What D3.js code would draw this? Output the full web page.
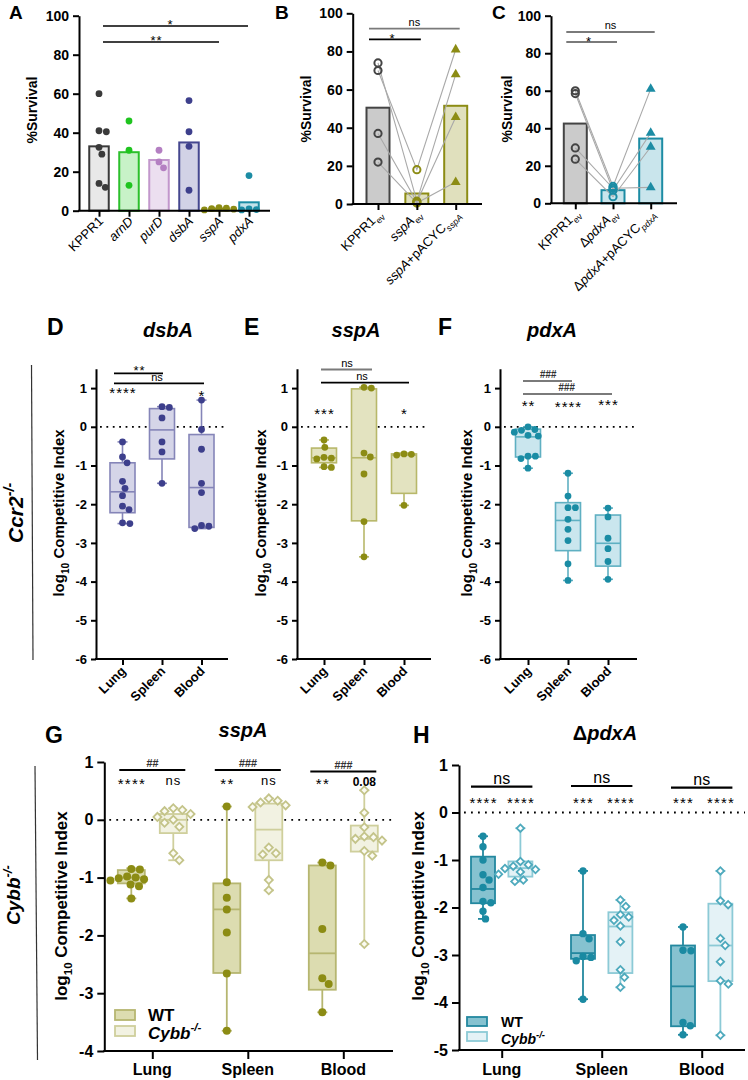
<!DOCTYPE html>
<html><head><meta charset="utf-8">
<script src="https://cdn.jsdelivr.net/npm/d3@7/dist/d3.min.js"></script>
<style>html,body{margin:0;padding:0;background:#fff}</style>
</head><body>
<script>
// ================= DATA =================
// Panel A
const aCats = ["KPPR1","arnD","purD","dsbA","sspA","pdxA"];
const aLabels = [[["KPPR1",""]],[["arnD","i"]],[["purD","i"]],[["dsbA","i"]],[["sspA","i"]],[["pdxA","i"]]];
const aMeans = [33, 30, 26, 35, 1.1, 4.3];
const aPts = [[60,40.5,41,32.5,29,14,12],[46,31,13],[31,25,22],[56.5,40.5,33,10.5],[1.6,1.3,1.1,0.8,0.4],[18,0.9,0.6,0.4]];
const aTicks = [0,20,40,60,80,100];
const aSig = [["KPPR1","pdxA","*"],["KPPR1","sspA","**"]];

// Panel B
const bCats = ["KPPR1ev","sspAev","sspAcomp"];
const bLabels = [[["KPPR1",""],["ev","sub"]],[["sspA","i"],["ev","sub"]],[["sspA","i"],["+pACYC",""],["sspA","subi"]]];
const bMeans = [50.5, 5.5, 51.5];
const bWT = [74, 70, 37, 22];
const bMut = [1.5, 18, 1, 0.5];
const bComp = [68, 81, 45.5, 11.5];
const bSig = [["KPPR1ev","sspAcomp","ns"],["KPPR1ev","sspAev","*"]];

// Panel C
const cCats = ["KPPR1ev","pdxAev","pdxAcomp"];
const cLabels = [[["KPPR1",""],["ev","sub"]],[["Δ",""],["pdxA","i"],["ev","sub"]],[["Δ",""],["pdxA","i"],["+pACYC",""],["pdxA","subi"]]];
const cMeans = [42.5, 7, 34.5];
const cWT = [60, 58.5, 29.5, 23.5];
const cMut = [9, 7, 8, 3.5];
const cComp = [61, 37.5, 8.5, 30];
const cSig = [["KPPR1ev","pdxAcomp","ns"],["KPPR1ev","pdxAev","*"]];

// Panels D-F (Ccr2-/-), box stats = [min, q1, median, q3, max]
const organs = ["Lung","Spleen","Blood"];
const ccrTicks = [1,0,-1,-2,-3,-4,-5,-6];
const dPts = [[-0.39,-0.78,-0.93,-1.41,-1.59,-1.78,-2.05,-2.14,-2.48,-2.5],[0.52,0.5,0.23,-0.39,-0.65,-1.46],[0.69,-0.07,-0.58,-1.46,-1.7,-2.55,-2.57,-2.63]];
const dBox = [[-2.5,-2.22,-1.68,-0.93,-0.39],[-1.46,-0.83,-0.08,0.47,0.52],[-2.63,-2.6,-1.57,-0.2,0.69]];
const dStars = ["****","","*"];
const ePts = [[-0.34,-0.53,-0.79,-0.83,-0.81,-1.03,-1.05],[1.02,1.0,-0.68,-0.78,-1.22,-2.45,-3.36],[-0.7,-0.73,-0.71,-2.03]];
const eBox = [[-1.05,-0.93,-0.8,-0.55,-0.34],[-3.36,-2.43,-0.8,0.98,1.02],[-2.03,-1.72,-0.73,-0.7,-0.68]];
const eStars = ["***","","*"];
const fPts = [[0,-0.07,-0.09,-0.14,-0.22,-0.24,-0.76,-0.82,-0.76,-1.07],[-1.2,-1.79,-2.09,-2.09,-2.39,-2.65,-2.94,-3.54,-3.97],[-2.1,-2.33,-2.88,-3.15,-3.48,-3.94]];
const fBox = [[-1.07,-0.78,-0.26,-0.06,0],[-3.97,-3.2,-2.42,-1.96,-1.2],[-3.94,-3.6,-3.01,-2.28,-2.1]];
const fStars = ["**","****","***"];

// Panel G (sspA, WT vs Cybb-/-)
const gTicks = [1,0,-1,-2,-3,-4];
const gWT = [[-0.85,-0.86,-0.98,-1.0,-1.01,-1.03,-1.05,-1.12,-1.15,-1.36],[0.23,-1.08,-1.35,-1.55,-1.95,-2.66,-3.65],[-0.74,-0.79,-1.89,-2.74,-2.84,-3.33]];
const gWTBox = [[-1.36,-1.1,-1.0,-0.87,-0.84],[-3.65,-2.65,-1.55,-1.1,0.23],[-3.33,-2.94,-2.31,-0.79,-0.74]];
const gKO = [[0.2,0.17,0.15,0.1,0.05,0.0,-0.05,-0.12,-0.58,-0.7],[0.37,0.33,0.3,0.25,0.22,-0.48,-0.58,-0.6,-1.04,-1.22],[0.51,0.12,-0.13,-0.29,-0.3,-0.33,-0.36,-0.54,-0.62,-2.15]];
const gKOBox = [[-0.7,-0.23,0.0,0.1,0.2],[-1.22,-0.7,-0.17,0.28,0.37],[-2.15,-0.55,-0.33,-0.1,0.51]];
const gHash = ["##","###","###"];
const gStarsWT = ["****","**","**"];
const gStarsKO = ["ns","ns","0.08"];

// Panel H (ΔpdxA, WT vs Cybb-/-)
const hTicks = [1,0,-1,-2,-3,-4,-5];
const hWT = [[-0.5,-0.72,-1.0,-1.31,-1.42,-1.58,-1.87,-1.9,-2.08,-2.24],[-1.23,-2.55,-2.66,-3.03,-3.05,-3.12,-3.93],[-2.41,-2.9,-2.91,-4.42,-4.49,-4.68]];
const hWTBox = [[-2.24,-1.91,-1.61,-0.93,-0.5],[-3.93,-3.08,-2.96,-2.58,-1.23],[-4.68,-4.5,-3.66,-2.8,-2.41]];
const hKO = [[-0.33,-1.03,-1.1,-1.13,-1.18,-1.2,-1.25,-1.3,-1.42,-1.45],[-1.84,-1.98,-2.15,-2.2,-2.27,-2.39,-2.72,-3.31,-3.47,-3.68],[-1.23,-1.86,-1.94,-2.65,-2.8,-3.14,-3.54,-3.61,-4.69]];
const hKOBox = [[-1.45,-1.35,-1.17,-1.03,-0.33],[-3.68,-3.38,-2.4,-2.1,-1.84],[-4.69,-3.55,-2.8,-1.92,-1.23]];
const hTop = ["ns","ns","ns"];
const hStarsWT = ["****","***","***"];
const hStarsKO = ["****","****","****"];

// ================= STYLE =================
const FONT = "'Liberation Sans', Arial, Helvetica, sans-serif";
const aFill = ["#e8e8e8","#c8f2c8","#ecdff0","#d2d2e6","#e0e0b0","#c4e2ea"];
const aStroke = ["#3a3a3a","#2cc02c","#c297cc","#45478f","#8c8c14","#1c8ca4"];
const aPtCol = ["#3a3a3a","#1fc41f","#b47fc2","#3d3f8c","#8c8c14","#1c8ca4"];
const GREY = "#7a7a7a";

const svg = d3.select("body").append("svg").attr("width",748).attr("height",1080)
  .attr("font-family", FONT);

// ================= HELPERS =================
function rich(t, segs, fs) {
  let shift = 0;
  segs.forEach(([s, st]) => {
    const sp = t.append("tspan").text(s);
    if (st.includes("i")) sp.attr("font-style","italic");
    let target = 0;
    if (st.startsWith("sub")) target = fs*0.3;
    if (st.startsWith("sup")) target = -fs*0.42;
    if (target !== shift) { sp.attr("dy", target - shift); shift = target; }
    if (target !== 0) sp.attr("font-size", fs*0.68);
  });
}
function txt(x, y, s, o={}) {
  const fs = o.fs || 13;
  const g = svg.append("g").attr("transform", `translate(${x},${y})` + (o.rot ? ` rotate(${o.rot})` : ""));
  const t = g.append("text").attr("x",0).attr("y",0).attr("font-size",fs)
    .attr("text-anchor",o.anchor||"middle").attr("fill",o.fill||"#000");
  if (o.bold) t.attr("font-weight","bold");
  if (o.italic) t.attr("font-style","italic");
  if (o.ls) t.attr("letter-spacing",o.ls);
  if (Array.isArray(s)) rich(t, s, fs); else t.text(s);
  return t;
}
function stars(cx, cy, s, fs, ls) {
  return txt(cx + (ls||0)/2, cy + fs*0.58, s, {fs, ls});
}
function hline(x1, x2, y, color, w) {
  svg.append("line").attr("x1",x1).attr("x2",x2).attr("y1",y).attr("y2",y)
    .attr("stroke",color).attr("stroke-width",w||1.5);
}
function yAxis(x, y, ticks, fs, tl) {
  const g = svg.append("g").attr("transform",`translate(${x},0)`)
    .call(d3.axisLeft(y).tickValues(ticks).tickSize(tl||6).tickSizeOuter(0).tickPadding(4).tickFormat(d=>String(d)));
  g.select(".domain").attr("stroke-width",2);
  g.selectAll(".tick line").attr("stroke-width",2);
  g.selectAll(".tick text").attr("font-size",fs).attr("font-weight","bold").attr("font-family",FONT).attr("fill","#000");
  return g;
}
function xAxis(x0, x1, yPix, xs, tl) {
  hline(x0-1, x1, yPix, "#000", 2);
  const g = svg.append("g").attr("transform",`translate(0,${yPix})`)
    .call(d3.axisBottom(xs).tickSize(tl||6).tickFormat(""));
  g.select(".domain").remove();
  g.selectAll(".tick line").attr("stroke-width",2);
}
function zeroLine(x0, x1, y, gap) {
  svg.append("line").attr("x1",x0).attr("x2",x1).attr("y1",y(0)).attr("y2",y(0))
    .attr("stroke","#000").attr("stroke-width",1.8).attr("stroke-dasharray",`1.8,${gap||4.8}`);
}
function swarm(vals, y, r) {
  const items = vals.map((v,i)=>({i, py:y(v)})).sort((a,b)=>a.py-b.py);
  const placed = [], out = new Array(vals.length);
  for (const p of items) {
    const cands = [0];
    for (const q of placed) {
      const dy = Math.abs(q.py - p.py);
      if (dy < 2*r) { const dx = Math.sqrt(4*r*r - dy*dy); cands.push(q.dx+dx, q.dx-dx); }
    }
    cands.sort((a,b)=>Math.abs(a)-Math.abs(b));
    let best = 0;
    for (const c of cands) {
      if (placed.every(q => (q.dx-c)**2 + (q.py-p.py)**2 >= 4*r*r - 0.05)) { best = c; break; }
    }
    p.dx = best; placed.push(p); out[p.i] = best;
  }
  return out;
}
function drawBox(cx, w, st, y, fill, stroke, sw) {
  const [mn,q1,md,q3,mx] = st;
  const g = svg.append("g").attr("stroke",stroke).attr("stroke-width",sw||1.6);
  g.append("line").attr("x1",cx).attr("x2",cx).attr("y1",y(mx)).attr("y2",y(q3));
  g.append("line").attr("x1",cx).attr("x2",cx).attr("y1",y(q1)).attr("y2",y(mn));
  [mn,mx].forEach(v => g.append("line").attr("x1",cx-5).attr("x2",cx+5).attr("y1",y(v)).attr("y2",y(v)));
  g.append("rect").attr("x",cx-w/2).attr("y",y(q3)).attr("width",w).attr("height",Math.max(0.5,y(q1)-y(q3))).attr("fill",fill);
  g.append("line").attr("x1",cx-w/2).attr("x2",cx+w/2).attr("y1",y(md)).attr("y2",y(md));
}
function dots(cx, vals, y, r, fill) {
  const dx = swarm(vals, y, r+0.3);
  svg.append("g").selectAll("circle").data(vals).join("circle")
    .attr("cx",(d,j)=>cx+dx[j]).attr("cy",d=>y(d)).attr("r",r).attr("fill",fill);
}
function diamonds(cx, vals, y, r, stroke, fill) {
  const dx = swarm(vals, y, r+0.6);
  const sym = d3.symbol().type(d3.symbolSquare).size((r*1.42)**2);
  svg.append("g").selectAll("path").data(vals).join("path")
    .attr("d", sym).attr("transform",(d,j)=>`translate(${cx+dx[j]},${y(d)}) rotate(45)`)
    .attr("fill",fill).attr("stroke",stroke).attr("stroke-width",1.8);
}
const LOG10 = [["log",""],["10","sub"],[" Competitive Index",""]];

// ================= PANEL A =================
(function(){
  const y = d3.scaleLinear([0,100],[210.7,15.7]);
  const x = d3.scalePoint(aCats,[99,249]);
  const bw = 19.5;
  svg.append("g").selectAll("rect").data(aMeans).join("rect")
    .attr("x",(d,i)=>x(aCats[i])-bw/2).attr("y",d=>y(d)).attr("width",bw).attr("height",d=>y(0)-y(d))
    .attr("fill",(d,i)=>aFill[i]).attr("stroke",(d,i)=>aStroke[i]).attr("stroke-width",2);
  aPts.forEach((pts,i)=> dots(x(aCats[i]), pts, y, 3.4, aPtCol[i]));
  yAxis(79, y, aTicks, 14);
  xAxis(79, 270, y(0), x, 6);
  aCats.forEach((c,i)=> txt(x(c)+5, 222, aLabels[i], {fs:13, anchor:"end", rot:-45}));
  txt(37, 110, "%Survival", {fs:14, bold:true, rot:-90});
  txt(9, 19, "A", {fs:19, bold:true, anchor:"start"});
  hline(103, 248, 26, "#000", 1.5); stars(170, 21, aSig[0][2], 13, 1);
  hline(103, 219, 42, "#000", 1.5); stars(156, 37, aSig[1][2], 13, 1);
})();

// ================= PANEL B / C =================
function pairedPanel(o) {
  const y = d3.scaleLinear([0,100], o.yr);
  const x = d3.scalePoint(o.cats, o.xr);
  const bw = 23;
  svg.append("g").selectAll("rect").data(o.means).join("rect")
    .attr("x",(d,i)=>x(o.cats[i])-bw/2).attr("y",d=>y(d)).attr("width",bw).attr("height",d=>y(0)-y(d))
    .attr("fill",(d,i)=>o.fills[i]).attr("stroke",(d,i)=>o.strokes[i]).attr("stroke-width",2);
  const reps = o.wt.map((v,k)=>[o.wt[k], o.mut[k], o.comp[k]]);
  const line = d3.line().x((d,i)=>x(o.cats[i])).y(d=>y(d));
  svg.append("g").selectAll("path").data(reps).join("path").attr("d",line)
    .attr("fill","none").attr("stroke","#a9a9a9").attr("stroke-width",1.1);
  [o.wt, o.mut].forEach((vals,i)=>{
    svg.append("g").selectAll("circle").data(vals).join("circle")
      .attr("cx",x(o.cats[i])).attr("cy",d=>y(d)).attr("r",3.6)
      .attr("fill","none").attr("stroke",o.ptCols[i]).attr("stroke-width",2);
  });
  const tri = d3.symbol().type(d3.symbolTriangle).size(42);
  svg.append("g").selectAll("path").data(o.comp).join("path").attr("d",tri)
    .attr("transform",d=>`translate(${x(o.cats[2])},${y(d)})`).attr("fill",o.ptCols[2]);
  yAxis(o.ax, y, aTicks, 14);
  xAxis(o.ax, o.axEnd, y(0), x, 6);
  o.cats.forEach((c,i)=> txt(x(c)+5, y(0)+11, o.labels[i], {fs:13, anchor:"end", rot:-45}));
  txt(o.ylabX, 109, "%Survival", {fs:14, bold:true, rot:-90});
  txt(o.letterX, 19, o.letter, {fs:19, bold:true, anchor:"start"});
  o.sig.forEach((s,k)=>{
    const x1 = x(s[0]) - 9, x2 = x(s[1]) + 4;
    hline(x1, x2, o.sigY[k], o.sigCol[k], 1.8);
    if (s[2] === "ns") txt((x1+x2)/2, o.sigY[k]-3, "ns", {fs:11});
    else stars((x1+x2)/2 - 3, o.sigY[k]-4, s[2], 13, 0);
  });
}
pairedPanel({cats:bCats, labels:bLabels, means:bMeans, wt:bWT, mut:bMut, comp:bComp, sig:bSig,
  yr:[204,13.3], xr:[378,455.7], ax:352.7, axEnd:482, ylabX:311, letter:"B", letterX:275,
  fills:["#cbcbcb","#e0e0bd","#e0e0bd"], strokes:["#444","#8c8c14","#8c8c14"], ptCols:["#444","#8c8c14","#8c8c14"],
  sigY:[28.7,39.3], sigCol:[GREY,"#000"]});
pairedPanel({cats:cCats, labels:cLabels, means:cMeans, wt:cWT, mut:cMut, comp:cComp, sig:cSig,
  yr:[203.3,15.7], xr:[575.3,650.7], ax:551, axEnd:677, ylabX:512, letter:"C", letterX:492,
  fills:["#cbcbcb","#c9e5ec","#c9e5ec"], strokes:["#444","#1c8ca4","#1c8ca4"], ptCols:["#444","#1c8ca4","#1c8ca4"],
  sigY:[32,42], sigCol:[GREY,GREY]});

// ================= PANELS D-F =================
function ccrPanel(o) {
  const y = d3.scaleLinear([-6,1.5],[659,368.75]);
  const x = d3.scalePoint(organs, o.xr);
  zeroLine(o.ax+4, o.axEnd-2, y, 4.6);
  organs.forEach((c,i)=> drawBox(x(c), 25, o.box[i], y, o.fill, o.stroke, 1.6));
  organs.forEach((c,i)=> dots(x(c), o.pts[i], y, 3.4, o.pt));
  yAxis(o.ax, y, ccrTicks, 13, 5);
  xAxis(o.ax, o.axEnd, 659, x, 6);
  organs.forEach((c,i)=> txt(x(c)+4, 672, c, {fs:13, bold:true, anchor:"end", rot:-45}));
  txt(o.ylabX, 513, LOG10, {fs:15, bold:true, rot:-90});
  txt(o.titleX, 337, o.title, {fs:20, bold:true, italic:true});
  txt(o.letterX, 335, o.letter, {fs:23, bold:true, anchor:"start"});
  o.stars.forEach((s,i)=>{ if (s) stars(x(organs[i]), o.starY[i], s, 15, 1); });
  o.sig.forEach(s=>{
    hline(s.x1, s.x2, s.y, s.col, 1.8);
    if (s.t.startsWith("#")) txt(s.tx, s.y-3, s.t, {fs:10, italic:true, bold:true, fill:"#333"});
    else if (s.t === "ns") txt(s.tx, s.y-2.5, "ns", {fs:11});
    else stars(s.tx, s.y-6, s.t, 13, 1);
  });
}
ccrPanel({xr:[122.5,201.5], ax:96, axEnd:228, pts:dPts, box:dBox, fill:"#d5d5e8", stroke:"#8585b8", pt:"#3d3f8c",
  ylabX:64, title:"dsbA", titleX:168, letter:"D", letterX:47, stars:dStars, starY:[389.5,0,392],
  sig:[{x1:114,x2:163,y:373.3,col:"#000",t:"**",tx:139},{x1:114,x2:204,y:383.3,col:"#000",t:"ns",tx:157}]});
ccrPanel({xr:[324,404], ax:297, axEnd:431, pts:ePts, box:eBox, fill:"#e3e3c0", stroke:"#b8b86a", pt:"#8c8c14",
  ylabX:266, title:"sspA", titleX:356, letter:"E", letterX:244, stars:eStars, starY:[410.5,0,410.5],
  sig:[{x1:321,x2:372,y:369.5,col:GREY,t:"ns",tx:347},{x1:321,x2:409,y:382.7,col:"#000",t:"ns",tx:362}]});
ccrPanel({xr:[528,608], ax:500, axEnd:637, pts:fPts, box:fBox, fill:"#cae6ee", stroke:"#5fb0c2", pt:"#1a8ca4",
  ylabX:472, title:"pdxA", titleX:552, letter:"F", letterX:438, stars:fStars, starY:[402.5,403.5,401.5],
  sig:[{x1:523,x2:572,y:381,col:GREY,t:"###",tx:548},{x1:523,x2:612,y:394,col:GREY,t:"###",tx:566.5}]});

svg.append("line").attr("x1",31.5).attr("x2",33).attr("y1",365).attr("y2",660).attr("stroke","#333").attr("stroke-width",1.2);
txt(23, 543, [["Ccr2",""],["-/-","sup"]], {fs:21, bold:true, italic:true, anchor:"start", rot:-90});

// ================= PANELS G / H =================
function cybbPanel(o) {
  const y = d3.scaleLinear(o.dom, o.yr);
  const x = d3.scalePoint(organs, o.xr);
  zeroLine(o.ax+5, o.axEnd, y, 5.2);
  organs.forEach((c,i)=>{
    drawBox(x(c)-o.off, o.bw, o.wtBox[i], y, o.wtFill, o.wtStroke, 1.8);
    drawBox(x(c)+o.off, o.bw, o.koBox[i], y, o.koFill, o.koStroke, 1.8);
  });
  organs.forEach((c,i)=>{
    dots(x(c)-o.off, o.wt[i], y, o.r, o.wtPt);
    diamonds(x(c)+o.off, o.ko[i], y, o.r, o.koPt, o.koPtFill);
  });
  yAxis(o.ax, y, o.ticks, 16, 7);
  xAxis(o.ax, o.axEnd, o.yr[0], x, 8);
  organs.forEach(c=> txt(x(c), 1075, c, {fs:16, bold:true}));
  txt(o.ylabX, 906, LOG10, {fs:17, bold:true, rot:-90});
  txt(o.titleX, o.titleY, o.title, {fs:20, bold:true});
  txt(o.letterX, 743, o.letter, {fs:23, bold:true, anchor:"start"});
  organs.forEach((c,i)=>{
    const x1 = x(c)-o.off-12, x2 = x(c)+o.off+12;
    hline(x1, x2, o.topY[i], "#000", 2.2);
    if (o.top[i] === "ns") txt((x1+x2)/2, o.topY[i]-3, "ns", {fs:16});
    else txt((x1+x2)/2, o.topY[i]-3, o.top[i], {fs:11, italic:true, bold:true, fill:"#333"});
    stars(x(c)-o.off, o.starY, o.starsWT[i], 15, 1.2);
    const s = o.starsKO[i];
    if (s === "ns") txt(x(c)+o.off, o.starY+4, "ns", {fs:13, ls:1});
    else if (s.startsWith("0")) txt(x(c)+o.off, o.starY+5, s, {fs:12, bold:true});
    else stars(x(c)+o.off, o.starY, s, 15, 1.2);
  });
  const L = o.leg;
  svg.append("rect").attr("x",L.x).attr("y",L.y).attr("width",20).attr("height",L.h)
    .attr("fill",o.wtFill).attr("stroke",o.wtStroke).attr("stroke-width",1.8);
  svg.append("rect").attr("x",L.x).attr("y",L.y+L.dy).attr("width",20).attr("height",L.h)
    .attr("fill",o.koFill).attr("stroke",o.koStroke).attr("stroke-width",1.8);
  txt(L.x+L.tx, L.y+L.h+0.5, "WT", {fs:L.fs, bold:true, anchor:"start"});
  txt(L.x+L.tx, L.y+L.dy+L.h+2.5, [["Cybb",""],["-/-","sup"]], {fs:L.fs, bold:true, italic:true, anchor:"start"});
}
cybbPanel({dom:[-4,1], yr:[1051,762], xr:[152.3,343.3], ax:104.3, axEnd:393, off:21, bw:27, r:4,
  ticks:gTicks, wt:gWT, wtBox:gWTBox, ko:gKO, koBox:gKOBox,
  wtFill:"#dcdcb0", wtStroke:"#b6b670", koFill:"#f2f2e2", koStroke:"#cfcf9c", wtPt:"#8c8c14", koPt:"#c4c48a", koPtFill:"#fbfbf2",
  ylabX:67, title:[["sspA","i"]], titleX:243, titleY:737, letter:"G", letterX:45,
  top:gHash, topY:[770,770,771.5], starY:780.5, starsWT:gStarsWT, starsKO:gStarsKO,
  leg:{x:115, y:1010, h:10, dy:16, tx:33, fs:17}});
cybbPanel({dom:[-5,1], yr:[1050,765], xr:[501.7,701.7], ax:459, axEnd:745, off:18.7, bw:24, r:3.7,
  ticks:hTicks, wt:hWT, wtBox:hWTBox, ko:hKO, koBox:hKOBox,
  wtFill:"#86c2d0", wtStroke:"#23889f", koFill:"#e4f2f6", koStroke:"#8ccad6", wtPt:"#1a8aa2", koPt:"#4faabd", koPtFill:"#ffffff",
  ylabX:424, title:[["Δ",""],["pdxA","i"]], titleX:605, titleY:740, letter:"H", letterX:413,
  top:hTop, topY:[786.7,786,787.7], starY:799, starsWT:hStarsWT, starsKO:hStarsKO,
  leg:{x:467, y:1017, h:9, dy:15, tx:34, fs:14}});

svg.append("line").attr("x1",35).attr("x2",37.5).attr("y1",766).attr("y2",1060).attr("stroke","#333").attr("stroke-width",1.2);
txt(20, 925, [["Cybb",""],["-/-","sup"]], {fs:19, bold:true, italic:true, anchor:"start", rot:-90});
</script>
</body></html>
